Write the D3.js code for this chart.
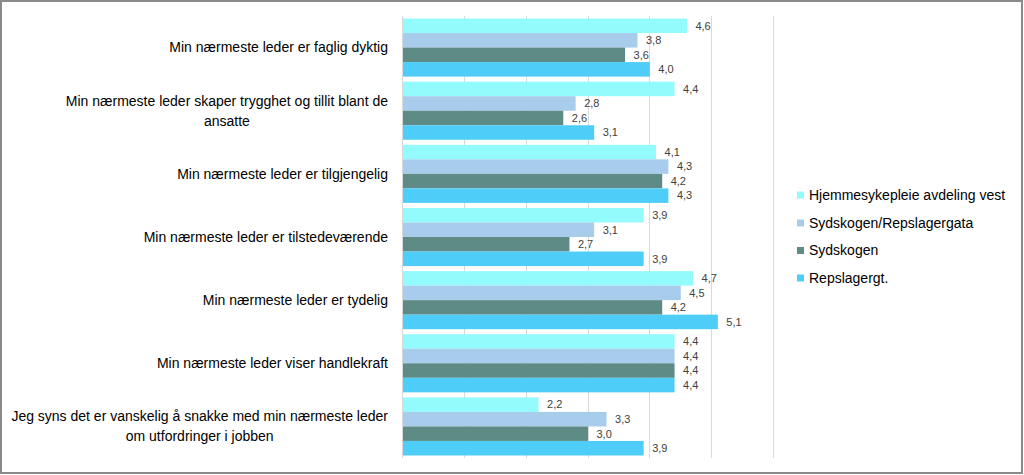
<!DOCTYPE html>
<html><head><meta charset="utf-8">
<script src="https://cdn.jsdelivr.net/npm/d3@7"></script>
<style>html,body{margin:0;padding:0;background:#fff;}svg{display:block;}</style>
</head><body>
<svg id="chart" width="1024" height="475"></svg>
<script>
const categories = [
  "Min nærmeste leder er faglig dyktig",
  "Min nærmeste leder skaper trygghet og tillit blant de\nansatte",
  "Min nærmeste leder er tilgjengelig",
  "Min nærmeste leder er tilstedeværende",
  "Min nærmeste leder er tydelig",
  "Min nærmeste leder viser handlekraft",
  "Jeg syns det er vanskelig å snakke med min nærmeste leder\nom utfordringer i jobben"
];
const seriesNames = ["Hjemmesykepleie avdeling vest", "Sydskogen/Repslagergata", "Sydskogen", "Repslagergt."];
const hjemmesykepleie = [4.6, 4.4, 4.1, 3.9, 4.7, 4.4, 2.2];
const sydskogenRepslagergata = [3.8, 2.8, 4.3, 3.1, 4.5, 4.4, 3.3];
const sydskogen = [3.6, 2.6, 4.2, 2.7, 4.2, 4.4, 3.0];
const repslagergt = [4.0, 3.1, 4.3, 3.9, 5.1, 4.4, 3.9];
const seriesColors = ["#94FBFD", "#A8CDEC", "#5F8B87", "#4FCDF9"];
const xTicks = [0, 1, 2, 3, 4, 5, 6];

const seriesValues = [hjemmesykepleie, sydskogenRepslagergata, sydskogen, repslagergt];
const svg = d3.select("#chart");
const font = "'Liberation Sans', Arial, sans-serif";

// frame
svg.append("rect").attr("x", 1).attr("y", 1).attr("width", 1021).attr("height", 472)
  .attr("fill", "#fff").attr("stroke", "#8a8a8a").attr("stroke-width", 2);

const x = d3.scaleLinear().domain([0, 6]).range([402, 773]);
const y = d3.scaleBand().domain(d3.range(categories.length)).range([16, 458]).paddingInner(0.08).paddingOuter(0.04);
const y1 = d3.scaleBand().domain(d3.range(seriesNames.length)).range([0, y.bandwidth()]);

// gridlines
svg.append("g").selectAll("line").data(xTicks).join("line")
  .attr("x1", d => Math.round(x(d)) + 0.5).attr("x2", d => Math.round(x(d)) + 0.5)
  .attr("y1", 16).attr("y2", 458)
  .attr("stroke", "#d9d9d9").attr("stroke-width", 1);

// bars
const groups = svg.append("g").selectAll("g").data(categories).join("g")
  .attr("transform", (d, i) => `translate(0,${y(i)})`);
groups.each(function(c, ci) {
  const g = d3.select(this);
  seriesValues.forEach((vals, si) => {
    g.append("rect")
      .attr("x", x(0) + 0.5).attr("y", y1(si))
      .attr("width", x(vals[ci]) - x(0)).attr("height", y1.bandwidth())
      .attr("fill", seriesColors[si]);
    g.append("text")
      .attr("x", x(vals[ci]) + 9).attr("y", y1(si) + y1.bandwidth() / 2)
      .attr("dy", "0.35em")
      .attr("font-family", font).attr("font-size", 11).attr("fill", "#404040")
      .text(d3.format(".1f")(vals[ci]).replace(".", ","));
  });
});

// axis line
svg.append("line").attr("x1", 402.5).attr("x2", 402.5).attr("y1", 16).attr("y2", 458)
  .attr("stroke", "#d9d9d9");

// category labels
categories.forEach((c, i) => {
  const lines = c.split("\n");
  const cy = y(i) + y.bandwidth() / 2;
  const lh = 20;
  const t = svg.append("text").attr("font-family", font).attr("font-size", 14).attr("fill", "#000")
    .attr("text-anchor", "middle");
  const meas = svg.append("text").attr("font-family", font).attr("font-size", 14);
  let maxW = 0;
  lines.forEach(l => { meas.text(l); maxW = Math.max(maxW, meas.node().getComputedTextLength()); });
  meas.remove();
  const cx = 388 - maxW / 2;
  lines.forEach((l, k) => {
    t.append("tspan").attr("x", cx)
      .attr("y", cy + (k - (lines.length - 1) / 2) * lh)
      .attr("dy", "0.35em").text(l);
  });
});

// legend
const legY = [195, 223, 250.5, 278];
const leg = svg.append("g").selectAll("g").data(seriesNames).join("g")
  .attr("transform", (d, i) => `translate(797,${legY[i]})`);
leg.append("rect").attr("x", 0).attr("y", -3.5).attr("width", 7).attr("height", 7)
  .attr("fill", (d, i) => seriesColors[i]);
leg.append("text").attr("x", 12).attr("y", 0).attr("dy", "0.35em")
  .attr("font-family", font).attr("font-size", 14).attr("fill", "#000")
  .text(d => d);
</script>
</body></html>
